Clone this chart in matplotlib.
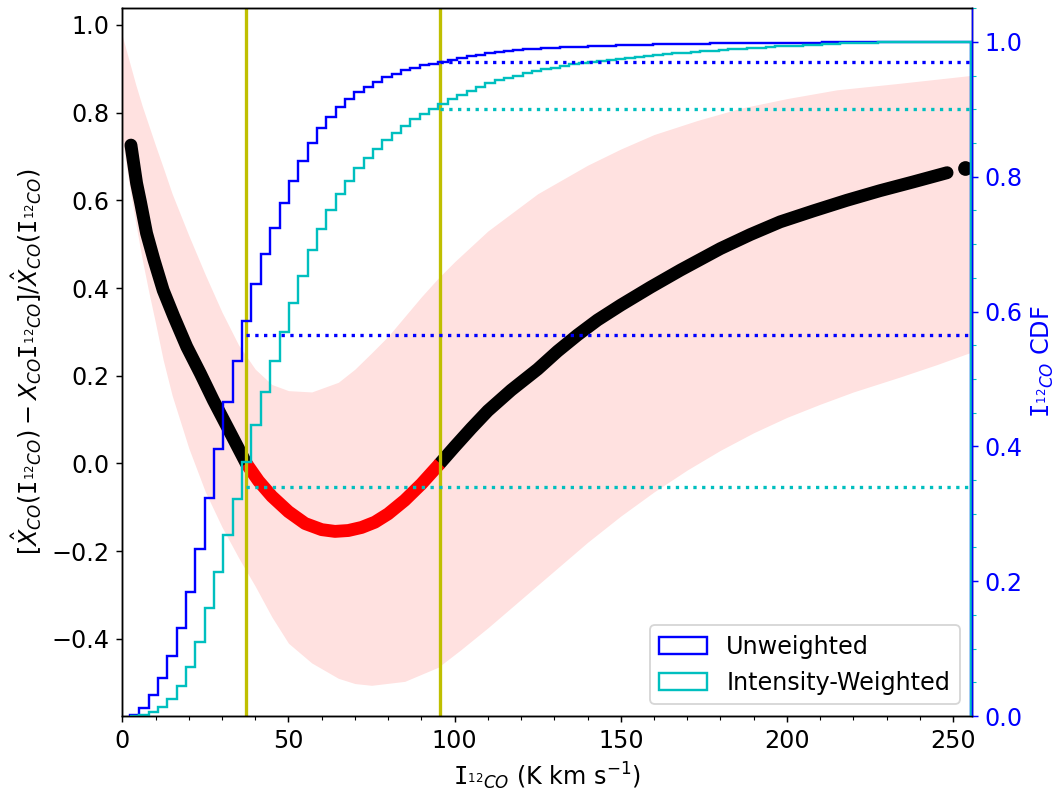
import numpy as np
import matplotlib.pyplot as plt
from matplotlib.ticker import MultipleLocator
from matplotlib.patches import Patch

# model curve (black / red part between the two cuts)
curve_x = [2.6, 3.3, 4.3, 5.5, 7.3, 9.5, 12.3, 15.5, 19.4, 23.5, 27.4, 32.5, 37.3]
curve_y = [0.726, 0.69, 0.639, 0.595, 0.525, 0.465, 0.395, 0.335, 0.266, 0.205, 0.144, 0.07, 0.0]
red_x = [37.3, 41, 45, 50, 55, 60, 64, 68, 72, 76, 80, 85, 90, 95.6]
red_y = [0.0, -0.04, -0.075, -0.11, -0.137, -0.151, -0.155, -0.153, -0.146, -0.134, -0.115, -0.084,
         -0.047, 0.0]
right_x = [95.6, 100, 105, 110, 117, 125, 131, 137, 143, 150, 159, 168, 180, 189, 198, 208, 218,
           228, 238, 248.2]
right_y = [0.0, 0.038, 0.08, 0.12, 0.167, 0.215, 0.256, 0.293, 0.327, 0.361, 0.402, 0.441, 0.49,
           0.522, 0.551, 0.576, 0.600, 0.622, 0.642, 0.663]
tail_x = [253.7]
tail_y = [0.673]

# uncertainty band
hi_x = [0, 2, 4, 6, 8, 10, 12.3, 15, 20, 25, 30, 35, 40, 45, 50, 57, 65, 70, 75, 80, 85, 90, 95,
        100, 110, 125, 140, 150, 160, 173, 186, 200, 215, 234, 255.6]
band_hi = [0.975, 0.92, 0.865, 0.815, 0.77, 0.725, 0.675, 0.615, 0.52, 0.43, 0.345, 0.27, 0.215,
           0.18, 0.166, 0.163, 0.185, 0.215, 0.252, 0.29, 0.335, 0.38, 0.422, 0.46, 0.53, 0.615,
           0.68, 0.717, 0.75, 0.782, 0.81, 0.832, 0.852, 0.867, 0.885]
lo_x = [0, 2, 4, 6, 8, 10, 12.3, 15, 20, 25, 30, 35, 40, 45, 50, 57, 65, 70, 75, 85, 95, 101.7,
        110, 120, 130, 140, 150, 160, 170, 180, 190, 200, 210, 220, 234, 245, 255.6]
band_lo = [0.74, 0.64, 0.55, 0.465, 0.39, 0.32, 0.236, 0.155, 0.035, -0.065, -0.145, -0.215,
           -0.28, -0.35, -0.41, -0.455, -0.49, -0.502, -0.506, -0.497, -0.465, -0.426, -0.375,
           -0.31, -0.245, -0.18, -0.12, -0.065, -0.015, 0.03, 0.07, 0.105, 0.135, 0.163, 0.197,
           0.225, 0.254]

# CDFs of I12CO
edges = np.linspace(2.3, 255.5, 91)
cdf_unw = [0.0015, 0.0114, 0.0312, 0.0559, 0.089, 0.131, 0.1835, 0.2473, 0.3239, 0.3961,
           0.4654, 0.527, 0.586, 0.6405, 0.6855, 0.7245, 0.761, 0.7938, 0.824, 0.8507,
           0.872, 0.8887, 0.9036, 0.9154, 0.9258, 0.9337, 0.941, 0.9476, 0.953, 0.958,
           0.962, 0.9654, 0.968, 0.971, 0.9733, 0.976, 0.979, 0.981, 0.983, 0.985,
           0.987, 0.988, 0.989, 0.990, 0.991, 0.9915, 0.992, 0.9925, 0.993, 0.9935,
           0.994, 0.9945, 0.995, 0.9955, 0.996, 0.9962, 0.9965, 0.9967, 0.997, 0.9972,
           0.9975, 0.9977, 0.9978, 0.998, 0.9981, 0.9982, 0.9984, 0.9985, 0.9986, 0.9988,
           0.9989, 0.999, 0.9991, 0.9992, 0.9993, 0.9995, 0.9996, 0.9997, 0.9998, 0.9999,
           1.0, 1.0, 1.0, 1.0, 1.0, 1.0, 1.0, 1.0, 1.0, 1.0]
cdf_wt = [0.0005, 0.0015, 0.0064, 0.0138, 0.0252, 0.045, 0.0732, 0.1098, 0.1602, 0.2136,
          0.269, 0.322, 0.3773, 0.4318, 0.4812, 0.527, 0.570, 0.6123, 0.6533, 0.6914,
          0.723, 0.7502, 0.774, 0.7942, 0.8126, 0.8274, 0.8412, 0.854, 0.8655, 0.8758,
          0.8853, 0.8936, 0.9006, 0.908, 0.9154, 0.9214, 0.928, 0.933, 0.939, 0.943,
          0.947, 0.950, 0.954, 0.957, 0.9595, 0.962, 0.9645, 0.967, 0.9685, 0.970,
          0.9715, 0.973, 0.9745, 0.976, 0.9775, 0.979, 0.980, 0.9815, 0.983, 0.984,
          0.985, 0.986, 0.987, 0.988, 0.989, 0.990, 0.991, 0.9915, 0.9925, 0.9935,
          0.994, 0.9945, 0.9955, 0.996, 0.9965, 0.9975, 0.998, 0.9985, 0.999, 0.999,
          0.9995, 0.9995, 1.0, 1.0, 1.0, 1.0, 1.0, 1.0, 1.0, 1.0]

cuts = [37.3, 95.6]
unw_at_cut = [0.5655, 0.9703]
wt_at_cut = [0.3404, 0.901]

plt.rcParams['font.size'] = 13
fig = plt.figure(figsize=(8, 796/132.25), dpi=132.25)
ax = fig.add_subplot(111)
fig.subplots_adjust(left=0.1156, right=0.9184, bottom=0.1005, top=0.9896)

# build the band on a common grid from the read edges
grid = np.union1d(hi_x, lo_x)
ax.fill_between(grid, np.interp(grid, lo_x, band_lo), np.interp(grid, hi_x, band_hi),
                color='#ffe1e0', lw=0)
ax.plot(curve_x, curve_y, color='k', lw=7, solid_capstyle='round')
ax.plot(right_x, right_y, color='k', lw=7, solid_capstyle='round')
ax.plot(tail_x, tail_y, 'o', color='k', ms=7)
ax.plot(red_x, red_y, color='r', lw=7, solid_capstyle='butt')
for c in cuts:
    ax.axvline(c, color='y', lw=1.8)

ax.set_xlim(0, 255.6)
ax.set_ylim(-0.576, 1.038)
ax.xaxis.set_major_locator(MultipleLocator(50))
ax.xaxis.set_minor_locator(MultipleLocator(10))
ax.yaxis.set_major_locator(MultipleLocator(0.2))
ax.set_xlabel(r'$\mathtt{I}_{^{12}CO}$ (K km s$^{-1}$)')
ax.set_ylabel(r'$[\hat{X}_{CO}(\mathtt{I}_{^{12}CO})-X_{CO}\mathtt{I}_{^{12}CO}]/\hat{X}_{CO}(\mathtt{I}_{^{12}CO})$')

ax2 = ax.twinx()
ax2.stairs(cdf_unw, edges, baseline=0, color='b', lw=1.3)
ax2.stairs(cdf_wt, edges, baseline=0, color='c', lw=1.3)
for c, u, w in zip(cuts, unw_at_cut, wt_at_cut):
    ax2.hlines(u, c, 255.6, colors='b', linestyles=':', lw=1.8)
    ax2.hlines(w, c, 255.6, colors='c', linestyles=':', lw=1.8)
ax2.set_xlim(0, 255.6)
ax2.set_ylim(0, 1.05)
ax2.yaxis.set_major_locator(MultipleLocator(0.2))
ax2.yaxis.set_minor_locator(MultipleLocator(0.05))
ax2.tick_params(axis='y', which='major', colors='b')
ax2.tick_params(axis='y', which='minor', colors='c')
ax2.spines['right'].set_color('b')
ax2.set_ylabel(r'$\mathtt{I}_{^{12}CO}$ CDF', color='b')

handles = [Patch(facecolor='none', edgecolor='b', lw=1.3, label='Unweighted'),
           Patch(facecolor='none', edgecolor='c', lw=1.3, label='Intensity-Weighted')]
ax2.legend(handles=handles, loc='lower right')

fig.savefig('out.png', dpi=132.25)
